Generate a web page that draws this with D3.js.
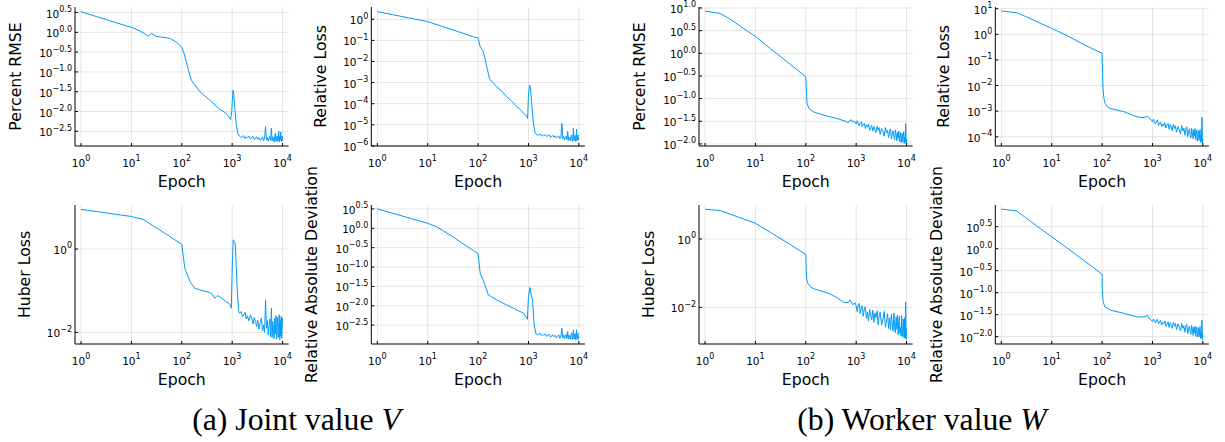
<!DOCTYPE html>
<html><head><meta charset="utf-8">
<script src="https://cdn.jsdelivr.net/npm/d3@7"></script>
<style>body{margin:0;background:#fff}svg{display:block}</style>
</head><body>
<svg id="chart" width="1225" height="442"></svg>
<script>
// ---------------- DATA (log10 of metric values) ----------------
const xTickExps = [0, 1, 2, 3, 4];
const captions = ["(a) Joint value ", "(b) Worker value "];
const captionVars = ["V", "W"];
const yLabels = ["Percent RMSE", "Relative Loss", "Huber Loss", "Relative Absolute Deviation"];

const ticksHalfA = [0.5, 0.0, -0.5, -1.0, -1.5, -2.0, -2.5];
const ticksRelLossA = [0, -1, -2, -3, -4, -5, -6];
const ticksHuber = [0, -2];
const ticksRmseB = [1.0, 0.5, 0.0, -0.5, -1.0, -1.5, -2.0];
const ticksRelLossB = [1, 0, -1, -2, -3, -4];
const ticksRadB = [0.5, 0.0, -0.5, -1.0, -1.5, -2.0];

const tailEpochsA = [1400,1500,1600,1700,1800,1900,2000,2150,2300,2450,2600,2750,2900,3050,3200,3400,3600,3800,4000,4200,4400,4600,4800,5000,5200,5400,5600,5800,6000,6200,6400,6600,6800,7000,7200,7400,7600,7800,8000,8200,8400,8600,8800,9000,9200,9400,9600,9800,10000];
const tailEpochsB = [900,950,1000,1050,1100,1150,1200,1260,1320,1380,1450,1520,1600,1680,1760,1850,1940,2040,2140,2250,2360,2480,2600,2730,2860,3000,3200,3400,3600,3800,4000,4200,4400,4600,4800,5000,5200,5400,5600,5800,6000,6200,6400,6600,6800,7000,7200,7400,7600,7800,8000,8200,8400,8600,8800,9000,9200,9400,9600,9800,10000];

// Joint value V : Percent RMSE
const vRmseHeadEpochs = [1,2,5,10,15,20,22,25,28,32,40,50,60,80,100,110,120,135,155,182,229,355,562,770,933,980,1020,1045,1080,1130,1200,1290];
const vRmseHeadLog = [0.52,0.40,0.24,0.126,0.03,-0.07,-0.09,-0.03,-0.07,-0.11,-0.12,-0.14,-0.16,-0.26,-0.38,-0.52,-0.70,-0.95,-1.21,-1.33,-1.5,-1.71,-1.94,-2.05,-2.2,-2.0,-1.6,-1.46,-1.6,-1.95,-2.3,-2.55];
const vRmseTailLog = [-2.62,-2.66,-2.63,-2.61,-2.68,-2.64,-2.66, -2.62,-2.69,-2.66,-2.63,-2.71,-2.67,-2.64, -2.70,-2.66,-2.73,-2.69,-2.64,-2.74,-2.67,-2.38,-2.72,-2.66, -2.75,-2.68,-2.63,-2.73,-2.42, -2.74,-2.64,-2.70,-2.77,-2.62, -2.55,-2.76,-2.68,-2.62,-2.75, -2.70,-2.50,-2.77,-2.64,-2.72, -2.52,-2.76,-2.68,-2.62,-2.74];

// Joint value V : Relative Loss
const vRelHeadEpochs = [1,2,5,10,20,50,80,100,105,110,125,135,150,170,200,235,300,370,450,590,700,800,900,960,1000,1050,1100,1150,1250,1330];
const vRelHeadLog = [0.36,0.22,0.03,-0.11,-0.35,-0.66,-0.83,-0.9,-1.1,-1.3,-1.5,-1.8,-2.3,-2.85,-3.0,-3.2,-3.42,-3.67,-3.85,-4.14,-4.3,-4.46,-4.55,-4.7,-3.6,-3.11,-3.3,-3.9,-4.9,-5.3];
const vRelTailLog = [-5.42,-5.50,-5.46,-5.44,-5.53,-5.48,-5.52, -5.47,-5.56,-5.50,-5.48,-5.60,-5.54,-5.51, -5.58,-5.52,-5.63,-5.57,-5.53,-5.66,-5.58,-4.93,-5.65,-5.55, -5.72,-5.60,-5.54,-5.70,-5.30, -5.74,-5.58,-5.66,-5.76,-5.55, -5.48,-5.78,-5.62,-5.17,-5.75, -5.62,-5.50,-5.78,-5.66,-5.20, -5.76,-5.56,-5.48,-5.72,-5.64];

// Joint value V : Huber Loss
const vHubHeadEpochs = [1,2,5,10,17,30,50,100,105,115,145,180,260,350,400,450,500,560,650,760,900,960,1010,1050,1100,1150,1260,1350];
const vHubHeadLog = [0.95,0.9,0.83,0.78,0.71,0.52,0.35,0.11,-0.1,-0.46,-0.78,-0.94,-1.0,-1.04,-1.08,-1.18,-1.12,-1.14,-1.2,-1.26,-1.32,-1.42,-0.3,0.22,0.18,0.14,-0.98,-1.5];
const vHubTailLog = [-1.54,-1.50,-1.62,-1.58,-1.52,-1.68,-1.60, -1.72,-1.58,-1.66,-1.80,-1.64,-1.74,-1.86, -1.70,-1.92,-1.76,-1.66,-1.96,-1.82,-2.00,-1.22,-1.90,-1.72, -2.06,-1.84,-1.68,-2.10,-1.42, -2.12,-1.74,-1.96,-2.15,-1.66, -2.04,-1.60,-2.16,-1.86,-1.64, -2.12,-1.94,-1.58,-2.18,-1.70, -2.08,-1.62,-2.14,-1.88,-1.66];

// Joint value V : Relative Absolute Deviation
const vRadHeadEpochs = [1,2,5,10,15,30,50,80,100,110,125,160,235,370,500,590,800,950,1000,1070,1120,1200,1300];
const vRadHeadLog = [0.5,0.39,0.24,0.13,0.04,-0.2,-0.40,-0.57,-0.65,-1.16,-1.33,-1.72,-1.85,-1.98,-2.06,-2.11,-2.19,-2.35,-1.77,-1.53,-1.7,-1.85,-2.5];
const vRadTailLog = [-2.72,-2.75,-2.73,-2.71,-2.77,-2.74,-2.76, -2.73,-2.79,-2.76,-2.74,-2.81,-2.77,-2.75, -2.80,-2.76,-2.83,-2.79,-2.75,-2.84,-2.78,-2.58,-2.83,-2.76, -2.85,-2.78,-2.74,-2.84,-2.66, -2.86,-2.76,-2.82,-2.87,-2.75, -2.70,-2.87,-2.79,-2.62,-2.86, -2.78,-2.72,-2.88,-2.80,-2.62, -2.87,-2.76,-2.71,-2.85,-2.79];

// Worker value W : Percent RMSE
const wRmseHeadEpochs = [1,2,3,5,10,20,50,100,103,106,115,140,190,300,450,650,700,750,800,850];
const wRmseHeadLog = [0.93,0.88,0.77,0.6,0.37,0.1,-0.25,-0.52,-0.9,-1.1,-1.22,-1.29,-1.34,-1.4,-1.45,-1.51,-1.53,-1.48,-1.47,-1.52];
const wRmseTailLog = [-1.50,-1.52,-1.56,-1.49,-1.55,-1.60,-1.53,-1.51,-1.62,-1.57, -1.54,-1.66,-1.58,-1.63,-1.56,-1.70,-1.65,-1.59,-1.72, -1.62,-1.68,-1.75,-1.61,-1.70,-1.64,-1.79, -1.66,-1.73,-1.83,-1.64,-1.76,-1.70,-1.86,-1.72,-1.67,-1.89, -1.78,-1.71,-1.84,-1.91,-1.69, -1.80,-1.93,-1.75,-1.87,-1.72, -1.95,-1.82,-1.74,-1.97,-1.88, -1.77,-1.96,-1.83,-1.73,-1.99, -1.85,-1.95,-1.55,-1.99, -1.90];

// Worker value W : Relative Loss
const wRelHeadEpochs = [1,2,3,5,10,20,50,100,102,104,107,110,115,130,150,270,490,650,800,850];
const wRelHeadLog = [0.91,0.84,0.70,0.50,0.23,-0.05,-0.46,-0.74,-1.5,-2.1,-2.37,-2.55,-2.7,-2.85,-2.9,-3.02,-3.22,-3.25,-3.2,-3.26];
const wRelTailLog = [-3.30,-3.36,-3.42,-3.31,-3.45,-3.50,-3.38,-3.35,-3.56,-3.47, -3.42,-3.60,-3.50,-3.58,-3.45,-3.66,-3.55,-3.48,-3.70, -3.52,-3.62,-3.76,-3.50,-3.68,-3.57,-3.82, -3.60,-3.72,-3.88,-3.56,-3.78,-3.66,-3.94,-3.70,-3.61,-4.00, -3.82,-3.68,-3.92,-4.04,-3.66, -3.86,-4.08,-3.72,-3.96,-3.68, -4.12,-3.90,-3.74,-4.16,-3.98, -3.76,-4.14,-3.92,-3.72,-4.22, -3.94,-4.18,-3.24,-4.26, -4.05];

// Worker value W : Huber Loss
const wHubHeadEpochs = [1,2,3,5,10,20,50,100,102,105,110,125,150,190,300,400,560,700,760,850];
const wHubHeadLog = [0.87,0.83,0.74,0.62,0.46,0.19,-0.17,-0.45,-0.9,-1.2,-1.3,-1.41,-1.46,-1.51,-1.6,-1.7,-1.85,-1.86,-1.78,-1.92];
const wHubTailLog = [-1.90,-1.86,-1.96,-2.12,-1.92,-1.88,-2.18,-2.02,-1.95,-2.26, -2.05,-1.98,-2.32,-2.14,-2.40,-2.06,-2.22,-2.36,-2.08, -2.44,-2.16,-2.30,-2.10,-2.50,-2.26,-2.14, -2.52,-2.34,-2.12,-2.58,-2.40,-2.18,-2.62,-2.30,-2.66,-2.20, -2.48,-2.70,-2.16,-2.56,-2.74, -2.28,-2.64,-2.22,-2.80,-2.44, -2.26,-2.76,-2.58,-2.84,-2.24, -2.68,-2.86,-2.34,-2.72,-2.90, -2.30,-2.88,-1.84,-2.93, -2.62];

// Worker value W : Relative Absolute Deviation
const wRadHeadEpochs = [1,2,3,5,10,20,50,100,101,103,105,110,115,150,270,490,650,800,850];
const wRadHeadLog = [0.9,0.86,0.71,0.52,0.27,0.02,-0.32,-0.58,-0.9,-1.09,-1.2,-1.28,-1.33,-1.4,-1.47,-1.55,-1.55,-1.52,-1.58];
const wRadTailLog = [-1.60,-1.62,-1.66,-1.60,-1.64,-1.69,-1.62,-1.61,-1.71,-1.66, -1.63,-1.74,-1.67,-1.70,-1.64,-1.77,-1.72,-1.66,-1.79, -1.68,-1.74,-1.81,-1.67,-1.76,-1.70,-1.84, -1.71,-1.78,-1.87,-1.70,-1.81,-1.75,-1.90,-1.77,-1.72,-1.93, -1.83,-1.76,-1.89,-1.95,-1.74, -1.85,-1.97,-1.79,-1.91,-1.76, -1.99,-1.86,-1.78,-2.01,-1.92, -1.80,-2.00,-1.88,-1.77,-2.04, -1.89,-2.02,-1.62,-2.07, -1.95];

// ---------------- LAYOUT ----------------
const panels = [
  {label: yLabels[0], left: 75,    top: 7,   bottom: 146, ylo: -2.871, yhi: 0.639, ticks: ticksHalfA,    dec: 1, labelX: 20.7,  ep: vRmseHeadEpochs.concat(tailEpochsA), lg: vRmseHeadLog.concat(vRmseTailLog)},
  {label: yLabels[1], left: 371.3, top: 7,   bottom: 146, ylo: -6.005, yhi: 0.583, ticks: ticksRelLossA, dec: 0, labelX: 326,   ep: vRelHeadEpochs.concat(tailEpochsA),  lg: vRelHeadLog.concat(vRelTailLog)},
  {label: yLabels[2], left: 75,    top: 205, bottom: 344, ylo: -2.278, yhi: 1.055, ticks: ticksHuber,    dec: 0, labelX: 30,    ep: vHubHeadEpochs.concat(tailEpochsA),  lg: vHubHeadLog.concat(vHubTailLog)},
  {label: yLabels[3], left: 371.3, top: 205, bottom: 344, ylo: -2.986, yhi: 0.601, ticks: ticksHalfA,    dec: 1, labelX: 317.3, ep: vRadHeadEpochs.concat(tailEpochsA),  lg: vRadHeadLog.concat(vRadTailLog)},
  {label: yLabels[0], left: 699,   top: 7,   bottom: 146, ylo: -2.046, yhi: 1.022, ticks: ticksRmseB,    dec: 1, labelX: 645,   ep: wRmseHeadEpochs.concat(tailEpochsB), lg: wRmseHeadLog.concat(wRmseTailLog)},
  {label: yLabels[1], left: 995.3, top: 7,   bottom: 146, ylo: -4.359, yhi: 1.066, ticks: ticksRelLossB, dec: 0, labelX: 949.3, ep: wRelHeadEpochs.concat(tailEpochsB),  lg: wRelHeadLog.concat(wRelTailLog)},
  {label: yLabels[2], left: 699,   top: 205, bottom: 344, ylo: -3.07,  yhi: 0.994, ticks: ticksHuber,    dec: 0, labelX: 654,   ep: wHubHeadEpochs.concat(tailEpochsB),  lg: wHubHeadLog.concat(wHubTailLog)},
  {label: yLabels[3], left: 995.3, top: 205, bottom: 344, ylo: -2.166, yhi: 0.993, ticks: ticksRadB,     dec: 1, labelX: 941.7, ep: wRadHeadEpochs.concat(tailEpochsB),  lg: wRadHeadLog.concat(wRadTailLog)}
];
const plotW = 213.6;
const FONT = "'DejaVu Sans', sans-serif";
const LINE = "#009AFA";

const svg = d3.select("#chart");
svg.append("rect").attr("width", 1225).attr("height", 442).attr("fill", "#fff");

function fmtExp(e, dec) {
  let s = dec ? Math.abs(e).toFixed(dec) : String(Math.abs(e));
  return (e < 0 ? "\u2212" : "") + s;
}

panels.forEach((p, i) => {
  const right = p.left + plotW;
  const x = d3.scaleLog().domain([Math.pow(10, -0.12), Math.pow(10, 4.12)]).range([p.left, right]);
  const y = d3.scaleLog().domain([Math.pow(10, p.ylo), Math.pow(10, p.yhi)]).range([p.bottom, p.top]);
  const g = svg.append("g");

  // grid
  xTickExps.forEach(e => {
    const xx = x(Math.pow(10, e));
    g.append("line").attr("x1", xx).attr("x2", xx).attr("y1", p.top).attr("y2", p.bottom)
      .attr("stroke", "#000").attr("stroke-opacity", 0.1).attr("stroke-width", 1);
  });
  p.ticks.forEach(e => {
    const yy = y(Math.pow(10, e));
    g.append("line").attr("x1", p.left).attr("x2", right).attr("y1", yy).attr("y2", yy)
      .attr("stroke", "#000").attr("stroke-opacity", 0.1).attr("stroke-width", 1);
  });

  // data line
  const pts = p.ep.map((e, k) => [e, Math.pow(10, p.lg[k])]);
  const line = d3.line().x(d => x(d[0])).y(d => y(d[1]));
  g.append("path").datum(pts).attr("d", line).attr("fill", "none")
    .attr("stroke", LINE).attr("stroke-width", 1).attr("stroke-linejoin", "round");

  // spines
  g.append("line").attr("x1", p.left).attr("x2", p.left).attr("y1", p.top).attr("y2", p.bottom)
    .attr("stroke", "#000").attr("stroke-width", 1);
  g.append("line").attr("x1", p.left).attr("x2", right).attr("y1", p.bottom).attr("y2", p.bottom)
    .attr("stroke", "#000").attr("stroke-width", 1);

  // x ticks and labels
  xTickExps.forEach(e => {
    const xx = x(Math.pow(10, e));
    g.append("line").attr("x1", xx).attr("x2", xx).attr("y1", p.bottom).attr("y2", p.bottom - 3)
      .attr("stroke", "#000").attr("stroke-width", 1);
    const t = g.append("text").attr("x", xx).attr("y", p.bottom + 20.5)
      .attr("text-anchor", "middle").attr("font-family", FONT).attr("font-size", 10.5).attr("fill", "#000");
    t.append("tspan").text("10");
    t.append("tspan").attr("dy", -5.5).attr("font-size", 8).text(fmtExp(e, 0));
  });
  // y ticks and labels
  p.ticks.forEach(e => {
    const yy = y(Math.pow(10, e));
    g.append("line").attr("x1", p.left).attr("x2", p.left + 3).attr("y1", yy).attr("y2", yy)
      .attr("stroke", "#000").attr("stroke-width", 1);
    const t = g.append("text").attr("x", p.left - 3).attr("y", yy + 5)
      .attr("text-anchor", "end").attr("font-family", FONT).attr("font-size", 10.5).attr("fill", "#000");
    t.append("tspan").text("10");
    t.append("tspan").attr("dy", -5.5).attr("font-size", 8).text(fmtExp(e, p.dec));
  });

  // axis labels
  g.append("text").attr("x", (p.left + right) / 2).attr("y", p.bottom + 41.3)
    .attr("text-anchor", "middle").attr("font-family", FONT).attr("font-size", 15.7).attr("fill", "#000")
    .text("Epoch");
  const yc = (p.top + p.bottom) / 2;
  g.append("text").attr("transform", `translate(${p.labelX},${yc}) rotate(-90)`)
    .attr("text-anchor", "middle").attr("font-family", FONT).attr("font-size", 15.7).attr("fill", "#000")
    .text(p.label);
});

// captions
const capX = [296.5, 922];
captions.forEach((c, i) => {
  const t = svg.append("text").attr("x", capX[i]).attr("y", 429.5)
    .attr("text-anchor", "middle").attr("font-family", "'Liberation Serif', serif")
    .attr("font-size", 31.7).attr("fill", "#000");
  t.append("tspan").text(c);
  t.append("tspan").attr("font-style", "italic").text(captionVars[i]);
});
</script>
</body></html>
